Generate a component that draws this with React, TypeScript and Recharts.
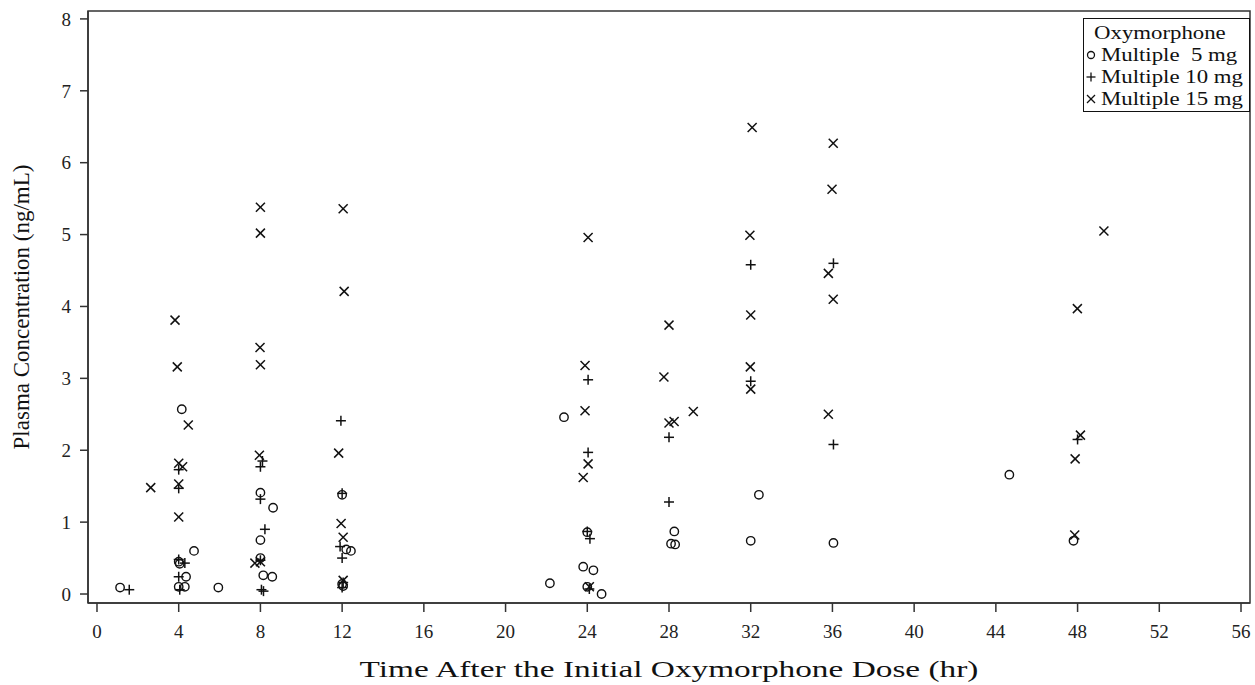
import { ScatterChart, Scatter, XAxis, YAxis, ReferenceArea } from "recharts";

// Oxymorphone plasma concentration (ng/mL) vs time (hr)
const mg5Time = [1.13, 4.15, 4.75, 4.0, 4.05, 4.36, 4.0, 4.3, 5.94, 8.0, 8.62, 8.0, 8.0, 8.14, 8.58, 12.0, 12.2, 12.43, 12.0, 12.05, 22.86, 22.17, 24.0, 23.8, 24.3, 24.0, 24.7, 28.26, 28.1, 28.3, 32.4, 32.0, 36.05, 44.66, 47.8];
const mg5Conc = [0.09, 2.57, 0.6, 0.45, 0.42, 0.24, 0.1, 0.1, 0.09, 1.41, 1.2, 0.75, 0.5, 0.26, 0.24, 1.38, 0.62, 0.6, 0.14, 0.11, 2.46, 0.15, 0.86, 0.38, 0.33, 0.1, 0.0, 0.87, 0.7, 0.69, 1.38, 0.74, 0.71, 1.66, 0.74];

const mg10Time = [1.58, 4.0, 4.0, 4.0, 4.3, 4.0, 4.05, 8.1, 8.0, 8.0, 8.22, 8.0, 8.05, 8.15, 11.94, 12.0, 11.9, 12.0, 12.05, 12.0, 24.04, 24.04, 24.0, 24.13, 24.1, 28.0, 28.0, 32.0, 32.0, 36.05, 36.05, 48.0];
const mg10Conc = [0.06, 1.73, 1.47, 0.48, 0.43, 0.24, 0.06, 1.85, 1.77, 1.32, 0.9, 0.47, 0.06, 0.04, 2.41, 1.4, 0.66, 0.5, 0.16, 0.09, 2.98, 1.97, 0.87, 0.77, 0.07, 2.18, 1.28, 4.58, 2.96, 4.6, 2.08, 2.15];

const mg15Time = [2.63, 3.82, 3.93, 4.47, 4.0, 4.19, 4.0, 4.0, 8.0, 8.0, 7.98, 8.0, 7.95, 8.0, 7.73, 12.05, 12.1, 11.83, 11.95, 12.05, 12.05, 24.04, 23.89, 23.89, 24.04, 23.8, 24.1, 28.0, 27.75, 28.0, 28.25, 29.19, 32.07, 31.96, 32.0, 31.98, 32.0, 36.04, 35.98, 35.8, 36.04, 35.8, 47.99, 48.14, 47.88, 47.86, 49.29];
const mg15Conc = [1.48, 3.81, 3.16, 2.35, 1.82, 1.77, 1.53, 1.07, 5.38, 5.02, 3.43, 3.19, 1.93, 0.45, 0.43, 5.36, 4.21, 1.96, 0.98, 0.79, 0.19, 4.96, 3.18, 2.55, 1.81, 1.62, 0.1, 3.74, 3.02, 2.38, 2.4, 2.54, 6.49, 4.99, 3.88, 3.16, 2.85, 6.27, 5.63, 4.46, 4.1, 2.5, 3.97, 2.21, 1.88, 0.82, 5.05];

const xTicks = [0, 4, 8, 12, 16, 20, 24, 28, 32, 36, 40, 44, 48, 52, 56];
const yTicks = [0, 1, 2, 3, 4, 5, 6, 7, 8];
const xDomain = [-0.44, 56.44];
const yDomain = [-0.125, 8.11];

const xTitle = "Time After the Initial Oxymorphone Dose (hr)";
const yTitle = "Plasma Concentration (ng/mL)";
const legendTitle = "Oxymorphone";
const seriesNames = ["Multiple  5 mg", "Multiple 10 mg", "Multiple 15 mg"];

const toPoints = (t: number[], c: number[]) => t.map((time, i) => ({ time, conc: c[i] }));

const INK = "#111";
const FONT = "'Liberation Serif', 'Times New Roman', serif";

function OpenCircle({ cx, cy }: any) {
  return <circle cx={cx} cy={cy} r={4.2} fill="none" stroke={INK} strokeWidth={1.4} />;
}

function PlusMark({ cx, cy }: any) {
  return (
    <g stroke={INK} strokeWidth={1.5}>
      <line x1={cx - 5} y1={cy} x2={cx + 5} y2={cy} />
      <line x1={cx} y1={cy - 5} x2={cx} y2={cy + 5} />
    </g>
  );
}

function CrossMark({ cx, cy }: any) {
  return (
    <g stroke={INK} strokeWidth={1.5}>
      <line x1={cx - 4.5} y1={cy - 4.5} x2={cx + 4.5} y2={cy + 4.5} />
      <line x1={cx - 4.5} y1={cy + 4.5} x2={cx + 4.5} y2={cy - 4.5} />
    </g>
  );
}

// the source image is a bit stretched sideways, so the titles get a scaleX
function XTitle({ viewBox }: any) {
  const cx = viewBox.x + viewBox.width / 2;
  const cy = viewBox.y + 66;
  return (
    <text
      transform={`translate(${cx},${cy}) scale(1.45,1)`}
      textAnchor="middle"
      dominantBaseline="central"
      style={{ fontFamily: FONT, fontSize: 23, fill: INK }}
    >
      {xTitle}
    </text>
  );
}

function YTitle({ viewBox }: any) {
  const cx = viewBox.x + 21;
  const cy = viewBox.y + viewBox.height / 2;
  return (
    <text
      transform={`translate(${cx},${cy}) rotate(-90)`}
      textAnchor="middle"
      dominantBaseline="central"
      style={{ fontFamily: FONT, fontSize: 23, fill: INK }}
    >
      {yTitle}
    </text>
  );
}

function LegendBox() {
  const symbols = [
    <circle key="c" cx={6} cy={6} r={3.5} fill="none" stroke={INK} strokeWidth={1.3} />,
    <g key="p" stroke={INK} strokeWidth={1.3}><line x1={1.5} y1={6} x2={10.5} y2={6} /><line x1={6} y1={1.5} x2={6} y2={10.5} /></g>,
    <g key="x" stroke={INK} strokeWidth={1.3}><line x1={2} y1={2} x2={10} y2={10} /><line x1={2} y1={10} x2={10} y2={2} /></g>,
  ];
  const stretch = { display: "inline-block", transform: "scaleX(1.2)", transformOrigin: "left center" } as const;
  return (
    <div
      style={{
        position: "absolute",
        left: 1083,
        top: 18,
        width: 167,
        height: 94,
        border: "1.5px solid #111",
        background: "#fff",
        fontFamily: FONT,
        fontSize: 19,
        color: INK,
        boxSizing: "border-box",
        paddingTop: 3,
        lineHeight: "22px",
      }}
    >
      <div style={{ textAlign: "center", paddingRight: 14 }}>
        <span style={{ ...stretch, transformOrigin: "center center" }}>{legendTitle}</span>
      </div>
      {seriesNames.map((name, i) => (
        <div key={name} style={{ display: "flex", alignItems: "center", paddingLeft: 1, whiteSpace: "pre" }}>
          <svg width={12} height={12} style={{ marginRight: 4 }}>{symbols[i]}</svg>
          <span style={stretch}>{name}</span>
        </div>
      ))}
    </div>
  );
}

export default function App() {
  const tickStyle = { fontFamily: FONT, fontSize: 19, fill: "#222" };
  return (
    <div style={{ position: "absolute", left: 0, top: 0, width: 1255, height: 685, background: "#fff" }}>
      <ScatterChart width={1255} height={685} margin={{ top: 11, right: 5, bottom: 0, left: 0 }}>
        <XAxis
          type="number"
          dataKey="time"
          domain={xDomain}
          ticks={xTicks}
          allowDataOverflow
          height={82}
          tickSize={9}
          tickMargin={13}
          stroke="#333"
          strokeWidth={1.5}
          tick={tickStyle}
          label={<XTitle />}
        />
        <YAxis
          type="number"
          dataKey="conc"
          domain={yDomain}
          ticks={yTicks}
          allowDataOverflow
          width={88}
          tickSize={8}
          tickMargin={9}
          stroke="#333"
          strokeWidth={1.5}
          tick={tickStyle}
          label={<YTitle />}
        />
        <ReferenceArea
          x1={xDomain[0]}
          x2={xDomain[1]}
          y1={yDomain[0]}
          y2={yDomain[1]}
          fill="none"
          stroke="#333"
          strokeWidth={1.5}
          ifOverflow="visible"
        />
        <Scatter name={seriesNames[0]} data={toPoints(mg5Time, mg5Conc)} shape={<OpenCircle />} isAnimationActive={false} />
        <Scatter name={seriesNames[1]} data={toPoints(mg10Time, mg10Conc)} shape={<PlusMark />} isAnimationActive={false} />
        <Scatter name={seriesNames[2]} data={toPoints(mg15Time, mg15Conc)} shape={<CrossMark />} isAnimationActive={false} />
      </ScatterChart>
      <LegendBox />
    </div>
  );
}
